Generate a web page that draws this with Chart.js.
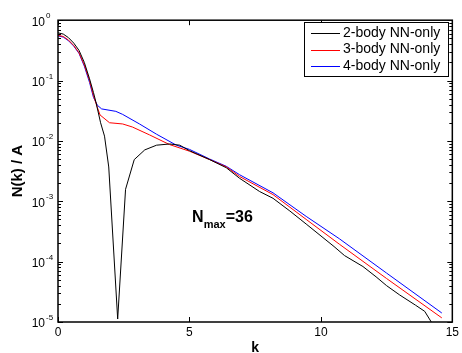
<!DOCTYPE html>
<html>
<head>
<meta charset="utf-8">
<script src="https://cdn.jsdelivr.net/npm/chart.js@4.4.1/dist/chart.umd.min.js"></script>
<style>
  html, body { margin: 0; padding: 0; background: #fff; }
  #wrap { width: 462px; height: 353px; }
</style>
</head>
<body>
<div id="wrap"><canvas id="nkChart" width="462" height="353"></canvas></div>
<script>
// momentum grid and N(k)/A for each calculation
const kTwo = [0, 0.2, 0.4, 0.6, 0.8, 1.0, 1.2, 1.35, 1.45, 1.62, 1.77, 1.93, 2.27, 2.57, 2.9, 3.3, 3.75, 4.25, 4.63, 5.0, 5.77, 6.4, 6.91,
              7.67, 8.18, 8.82, 9.44, 10.08, 10.5, 10.9, 11.6, 12.1, 12.5, 13.0, 13.6, 13.95, 14.2];
const nTwo = [0.617, 0.589, 0.513, 0.417, 0.316, 0.200, 0.107, 0.0631, 0.0427, 0.020, 0.012, 0.0037, 1.12e-5, 0.00158, 0.0049, 0.0071, 0.0085, 0.0089, 0.0085, 0.0069, 0.0049, 0.0036, 0.0024,
              0.00145, 0.00112, 6.9e-4, 4.2e-4, 2.5e-4, 1.78e-4, 1.26e-4, 8.3e-5, 5.6e-5, 4.0e-5, 2.8e-5, 1.9e-5, 1.5e-5, 1.0e-5];

const kThree = [0, 0.2, 0.4, 0.6, 0.8, 1.0, 1.2, 1.35, 1.5, 1.6, 1.96, 2.46, 2.83, 3.48, 4.24, 5.0, 5.77, 6.4, 6.91, 8.18, 9.44, 10.7, 12.5, 14.6];
const nThree = [0.562, 0.537, 0.468, 0.380, 0.288, 0.182, 0.100, 0.0562, 0.0355, 0.0269, 0.0200, 0.0191, 0.0170, 0.0126, 0.00871, 0.00676, 0.00490, 0.00372, 0.00257, 0.00129, 5.01e-4, 1.95e-4, 5.25e-5, 1.17e-5];

const kFour = [0, 0.2, 0.4, 0.6, 0.8, 1.0, 1.2, 1.35, 1.5, 1.66, 2.2, 2.46, 3.1, 3.75, 4.5, 5.0, 5.77, 6.4, 6.91, 8.18, 9.44, 10.7, 12.5, 14.6];
const nFour = [0.550, 0.525, 0.457, 0.372, 0.282, 0.174, 0.0933, 0.0525, 0.0389, 0.0339, 0.0309, 0.0275, 0.0191, 0.0129, 0.00851, 0.00724, 0.00501, 0.00380, 0.00275, 0.00138, 5.62e-4, 2.40e-4, 6.46e-5, 1.41e-5];

const seriesNames = ['2-body NN-only', '3-body NN-only', '4-body NN-only'];
const seriesColors = ['#000000', '#ff0000', '#0000ff'];
const xTicks = [0, 5, 10, 15];
const yDecades = [0, -1, -2, -3, -4, -5];

const FONT = "'Liberation Sans', Arial, Helvetica, sans-serif";

function toPoints(ks, ns) {
    return ks.map((k, i) => ({ x: k, y: ns[i] }));
}

function isDecade(v) {
    const e = Math.log10(v);
    return Math.abs(e - Math.round(e)) < 1e-6;
}

// box, inward ticks, exponents, legend and the N_max note
const decorations = {
    id: 'decorations',
    afterDraw(chart) {
        const c = chart.ctx;
        const a = chart.chartArea;
        const xs = chart.scales.x;
        const ys = chart.scales.y;
        c.save();
        c.strokeStyle = '#000';
        c.lineWidth = 1;

        // ticks on all four sides
        c.beginPath();
        yDecades.forEach(d => {
            for (let m = 1; m <= 9; m++) {
                const v = m * Math.pow(10, d);
                if (v > 1 || v < 1e-5) continue;
                const y = Math.round(ys.getPixelForValue(v)) + 0.5;
                const len = m === 1 ? 5 : 3;
                c.moveTo(a.left, y); c.lineTo(a.left + len, y);
                c.moveTo(a.right, y); c.lineTo(a.right - len, y);
            }
        });
        xTicks.forEach(t => {
            const x = Math.round(xs.getPixelForValue(t)) + 0.5;
            c.moveTo(x, a.top); c.lineTo(x, a.top + 5);
            c.moveTo(x, a.bottom); c.lineTo(x, a.bottom - 5);
        });
        c.stroke();

        c.lineWidth = 1.5;
        c.strokeRect(a.left, a.top, a.right - a.left, a.bottom - a.top);

        // exponents of the y tick labels
        c.fillStyle = '#000';
        c.font = '8px ' + FONT;
        c.textAlign = 'left';
        c.textBaseline = 'middle';
        yDecades.forEach(d => {
            const y = ys.getPixelForValue(Math.pow(10, d));
            c.fillText(String(d), a.left - 12, y - 4);
        });

        // legend
        const lx = 304, ly = 22, lw = 144, lh = 54;
        c.fillStyle = '#fff';
        c.fillRect(lx, ly, lw, lh);
        c.lineWidth = 1;
        c.strokeStyle = '#000';
        c.strokeRect(lx + 0.5, ly + 0.5, lw, lh);
        c.font = '14px ' + FONT;
        c.textBaseline = 'middle';
        seriesNames.forEach((name, i) => {
            const y = ly + 11 + i * 16.5;
            c.strokeStyle = seriesColors[i];
            c.beginPath();
            c.moveTo(lx + 7, Math.round(y) + 0.5);
            c.lineTo(lx + 36, Math.round(y) + 0.5);
            c.stroke();
            c.fillStyle = '#000';
            c.fillText(name, lx + 39, y);
        });

        // N_max = 36
        const nx = xs.getPixelForValue(5.1);
        const ny = ys.getPixelForValue(Math.pow(10, -3.27));
        c.fillStyle = '#000';
        c.textBaseline = 'middle';
        c.font = 'bold 16px ' + FONT;
        c.fillText('N', nx, ny);
        let w = c.measureText('N').width;
        c.font = 'bold 11px ' + FONT;
        c.fillText('max', nx + w, ny + 7);
        w += c.measureText('max').width;
        c.font = 'bold 16px ' + FONT;
        c.fillText('=36', nx + w, ny);
        c.restore();
    }
};

const ctx = document.getElementById('nkChart').getContext('2d');
const nkChart = new Chart(ctx, {
    type: 'line',
    data: {
        datasets: [
            { label: seriesNames[0], data: toPoints(kTwo, nTwo), borderColor: seriesColors[0] },
            { label: seriesNames[1], data: toPoints(kThree, nThree), borderColor: seriesColors[1] },
            { label: seriesNames[2], data: toPoints(kFour, nFour), borderColor: seriesColors[2] }
        ].map(ds => Object.assign(ds, { borderWidth: 1, pointRadius: 0, tension: 0, fill: false }))
    },
    options: {
        responsive: false,
        animation: false,
        devicePixelRatio: 1,
        layout: { padding: { top: 17, right: 9, left: 0, bottom: 0 } },
        plugins: { legend: { display: false }, tooltip: { enabled: false } },
        scales: {
            x: {
                type: 'linear', min: 0, max: 15,
                afterBuildTicks: s => { s.ticks = xTicks.map(v => ({ value: v })); },
                afterFit: s => { s.height = 31; },
                grid: { display: false, drawTicks: false },
                border: { display: false },
                ticks: { padding: 3, color: '#000', maxRotation: 0, font: { family: FONT, size: 12 } },
                title: { display: true, text: 'k', color: '#000', padding: { top: 0, bottom: -2 },
                         font: { family: FONT, size: 14, weight: 'bold', lineHeight: 1 } }
            },
            y: {
                type: 'logarithmic', min: 1e-5, max: 1,
                afterFit: s => { s.width = 58; },
                grid: { display: false, drawTicks: false },
                border: { display: false },
                ticks: { autoSkip: false, padding: 13, labelOffset: 2, color: '#000',
                         font: { family: FONT, size: 12 },
                         callback: v => isDecade(v) ? '10' : '' },
                title: { display: true, text: 'N(k) / A', color: '#000', padding: { top: 10, bottom: 0 },
                         font: { family: FONT, size: 15, weight: 'bold', lineHeight: 1 } }
            }
        }
    },
    plugins: [decorations]
});
</script>
</body>
</html>
